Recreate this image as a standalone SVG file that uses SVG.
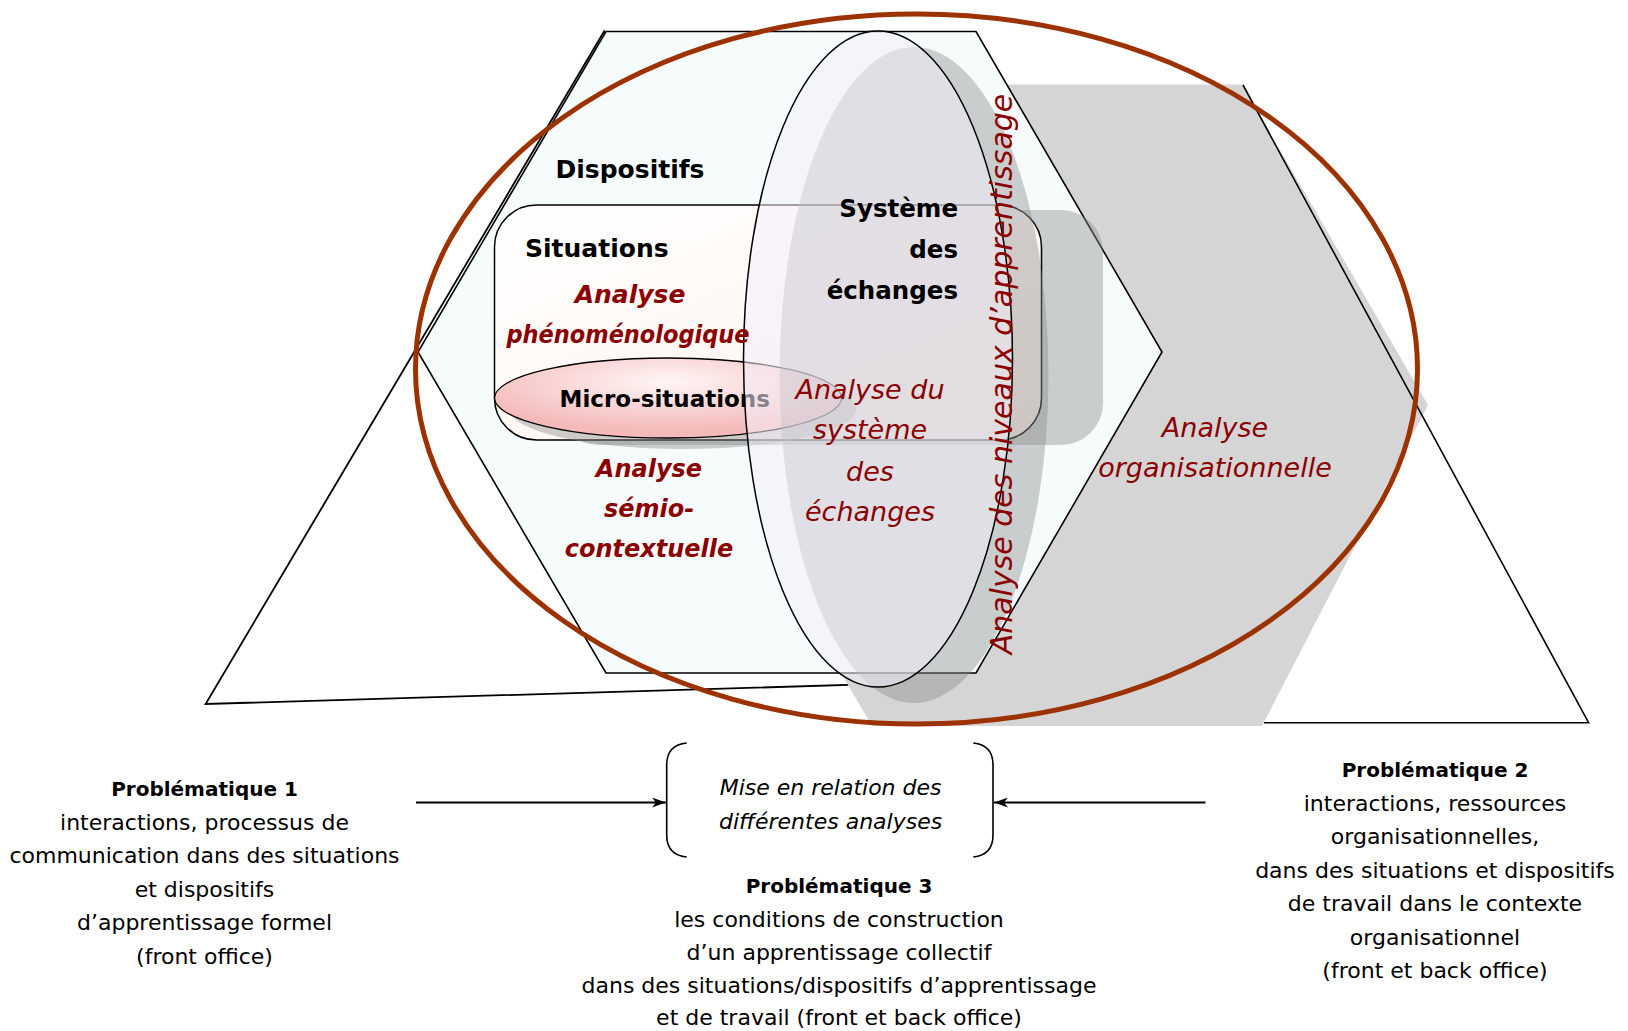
<svg xmlns="http://www.w3.org/2000/svg" width="1628" height="1031" viewBox="0 0 1628 1031">
<defs>
<style>
.ln{fill:none;stroke:#000;stroke-width:1.6}
.b{font-family:'Comic Sans MS','DejaVu Sans',sans-serif;font-weight:bold;fill:#000}
.rb{font-family:'Comic Sans MS','DejaVu Sans',sans-serif;font-weight:bold;font-style:italic;fill:#8b0000;font-size:24px;text-anchor:middle}
.r{font-family:'Comic Sans MS','DejaVu Sans',sans-serif;font-style:italic;fill:#8b0000;font-size:27px;text-anchor:middle}
.t{font-family:'Comic Sans MS','DejaVu Sans',sans-serif;font-size:22px;fill:#000;text-anchor:middle}
.tb{font-family:'Comic Sans MS','DejaVu Sans',sans-serif;font-size:20px;font-weight:bold;fill:#000;text-anchor:middle}
.ti{font-family:'Comic Sans MS','DejaVu Sans',sans-serif;font-size:22px;font-style:italic;fill:#000;text-anchor:middle}
.shd{fill:#8c8c8c;fill-opacity:0.42}
</style>
<linearGradient id="rectG" x1="0" y1="0" x2="1" y2="1">
<stop offset="0" stop-color="#ffffff"/><stop offset="1" stop-color="#fcf1e9"/>
</linearGradient>
<radialGradient id="microG" cx="0.5" cy="0.3" r="0.6">
<stop offset="0" stop-color="#fff6f6"/><stop offset="1" stop-color="#f4baba"/>
</radialGradient>
<marker id="ah" viewBox="0 0 14 10" refX="14" refY="5" markerWidth="14" markerHeight="10" markerUnits="userSpaceOnUse" orient="auto">
<path d="M0,0 L14,5 L0,10 L4,5 z" fill="#000"/>
</marker>
</defs>
<rect width="1628" height="1031" fill="#fff"/>

<g id="triangle-left">
<polygon points="604,31.5 205.6,704 880,684" fill="#fff" stroke="#000" stroke-width="1.8"/>
</g>
<g id="hexagon-shadow">
<polygon points="872,84.5 1242,84.5 1428,405 1262,726 872,726 684,405" fill="#d5d5d5"/>
</g>
<g id="triangle-right">
<path d="M1243,85 L1588.6,722.7 L1264,722.7" class="ln" stroke-width="1.8"/>
</g>
<g id="dispositifs">
<polygon points="606,31.5 976,31.5 1162,352 976,673 606,673 418,352" fill="#f6fcfc" stroke="#000" stroke-width="1.6"/>
<text class="b" x="555.5" y="177.5" font-size="25">Dispositifs</text>
</g>
<g id="situations">
<rect x="556" y="210" width="547" height="235" rx="42" class="shd" fill-opacity="0.3"/>
<rect x="494.5" y="205" width="547" height="235" rx="42" fill="url(#rectG)" stroke="#000" stroke-width="1.5"/>
<text class="b" x="525" y="257" font-size="25">Situations</text>
</g>
<g id="micro-situations">
<ellipse cx="683" cy="409" rx="173.5" ry="40" class="shd" fill-opacity="0.3"/>
<ellipse cx="668" cy="398" rx="173.5" ry="40" fill="url(#microG)" stroke="#000" stroke-width="1.3"/>
<text class="b" x="559.6" y="407" font-size="23">Micro-situations</text>
</g>
<g id="systeme-echanges">
<ellipse cx="914" cy="375" rx="134.5" ry="328" class="shd" fill-opacity="0.38"/>
<ellipse cx="878" cy="359" rx="134.5" ry="328" fill="#f3eefa" fill-opacity="0.55" stroke="#000" stroke-width="1.5"/>
<text class="b" x="958" y="217" font-size="24.5" text-anchor="end">Système</text>
<text class="b" x="958" y="258" font-size="24.5" text-anchor="end">des</text>
<text class="b" x="958" y="299" font-size="24.5" text-anchor="end">échanges</text>
</g>
<g id="analyse-phenomenologique">
<text class="rb" x="630" y="303" style="font-size:25px">Analyse</text>
<text class="rb" x="628" y="343" textLength="243" lengthAdjust="spacingAndGlyphs">phénoménologique</text>
</g>
<g id="analyse-semio">
<text class="rb" x="649" y="477">Analyse</text>
<text class="rb" x="649" y="517">sémio-</text>
<text class="rb" x="649" y="557">contextuelle</text>
</g>
<g id="analyse-systeme">
<text class="r" x="870" y="399">Analyse du</text>
<text class="r" x="870" y="439">système</text>
<text class="r" x="870" y="481">des</text>
<text class="r" x="870" y="521">échanges</text>
</g>
<g id="analyse-niveaux">
<text class="r" style="font-size:30px" transform="translate(1012,374) rotate(-90)" x="0" y="0">Analyse des niveaux d’apprentissage</text>
</g>
<g id="analyse-organisationnelle">
<text class="r" x="1215" y="437">Analyse</text>
<text class="r" x="1215" y="477">organisationnelle</text>
</g>
<g id="cadre-ellipse">
<ellipse cx="916.5" cy="369" rx="501" ry="355" fill="none" stroke="#9b3200" stroke-width="5"/>
</g>

<g id="problematique-1">
<text class="tb" x="204.5" y="795.5">Problématique 1</text>
<text class="t" x="204.5" y="829.5">interactions, processus de</text>
<text class="t" x="204.5" y="863">communication dans des situations</text>
<text class="t" x="204.5" y="896.5">et dispositifs</text>
<text class="t" x="204.5" y="930">d’apprentissage formel</text>
<text class="t" x="204.5" y="963.5">(front office)</text>
</g>
<g id="mise-en-relation">
<path d="M686.7,743 Q666.7,745 666.7,765 L666.7,835 Q666.7,855 686.7,857" class="ln" stroke-width="1.8"/>
<path d="M973.3,743 Q993,745 993,765 L993,835 Q993,855 973.3,857" class="ln" stroke-width="1.8"/>
<text class="ti" x="830.6" y="795.3">Mise en relation des</text>
<text class="ti" x="830.6" y="829.3">différentes analyses</text>
</g>
<g id="problematique-3">
<text class="tb" x="839" y="893">Problématique 3</text>
<text class="t" x="839" y="926.5">les conditions de construction</text>
<text class="t" x="839" y="960">d’un apprentissage collectif</text>
<text class="t" x="839" y="993">dans des situations/dispositifs d’apprentissage</text>
<text class="t" x="839" y="1025">et de travail (front et back office)</text>
</g>
<g id="problematique-2">
<text class="tb" x="1435" y="776.6">Problématique 2</text>
<text class="t" x="1435" y="810.5">interactions, ressources</text>
<text class="t" x="1435" y="844">organisationnelles,</text>
<text class="t" x="1435" y="877.5">dans des situations et dispositifs</text>
<text class="t" x="1435" y="911">de travail dans le contexte</text>
<text class="t" x="1435" y="944.5">organisationnel</text>
<text class="t" x="1435" y="978">(front et back office)</text>
</g>
<g id="connectors">
<line x1="416" y1="802.5" x2="666" y2="802.5" stroke="#000" stroke-width="1.8" marker-end="url(#ah)"/>
<line x1="1205.5" y1="802.5" x2="994" y2="802.5" stroke="#000" stroke-width="1.8" marker-end="url(#ah)"/>
</g>
</svg>
